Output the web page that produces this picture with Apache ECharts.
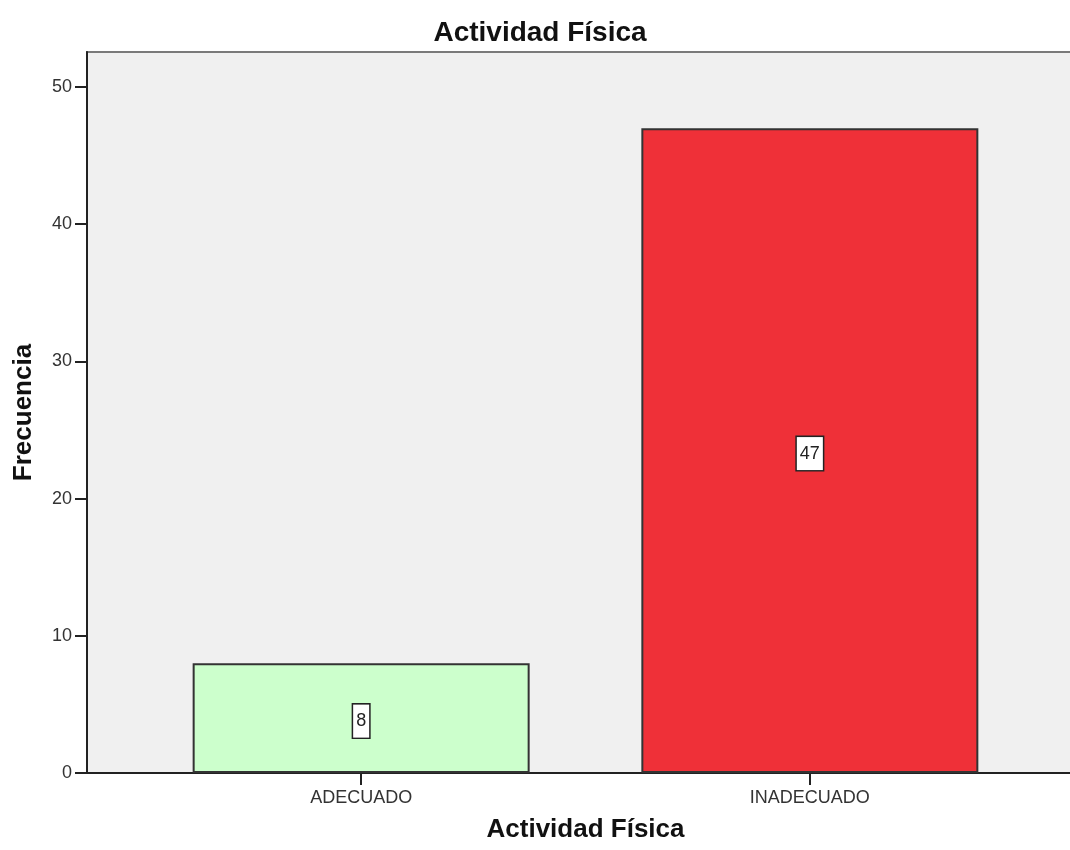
<!DOCTYPE html>
<html>
<head>
<meta charset="utf-8">
<title>Actividad Física</title>
<script src="https://cdn.jsdelivr.net/npm/echarts@6/dist/echarts.min.js"></script>
<style>
  html, body { margin: 0; padding: 0; background: #fff; }
  #chart { width: 1070px; height: 850px; }
</style>
</head>
<body>
<div id="chart"></div>
<script>
// Frequency of physical activity level
const categories = ['ADECUADO', 'INADECUADO'];
const frequencies = [8, 47];
const barColors = ['#ccffcc', '#ef3038'];
const yTicks = [0, 10, 20, 30, 40, 50];

const FONT = '"Liberation Sans", Arial, sans-serif';

// bars sit at category positions 0 and 1 on a numeric axis
const barData = categories.map((name, i) => ({
  name: name,
  value: [i, frequencies[i]],
  itemStyle: { color: barColors[i] }
}));

const chart = echarts.init(document.getElementById('chart'), null, { renderer: 'canvas' });

chart.setOption({
  animation: false,
  backgroundColor: '#ffffff',
  textStyle: { fontFamily: FONT },
  title: {
    text: 'Actividad Física',
    left: 535,
    top: 14,
    textAlign: 'center',
    textStyle: { fontFamily: FONT, fontSize: 28, fontWeight: 'bold', color: '#111' }
  },
  grid: {
    left: 87,
    top: 52,
    right: -14,
    bottom: 77,
    outerBoundsMode: 'none',
    containLabel: false,
    show: true,
    backgroundColor: '#f0f0f0',
    borderColor: '#7a7a7a',
    borderWidth: 2
  },
  xAxis: {
    type: 'value',
    min: -0.611,
    max: 1.611,
    name: 'Actividad Física',
    nameLocation: 'middle',
    nameGap: 44,
    nameTextStyle: { fontFamily: FONT, fontSize: 26, fontWeight: 'bold', color: '#111' },
    splitLine: { show: false },
    axisLine: { show: true, onZero: false, lineStyle: { color: '#222', width: 2 } },
    axisTick: {
      show: true,
      customValues: [0, 1],
      length: 12,
      lineStyle: { color: '#222', width: 2 }
    },
    axisLabel: {
      customValues: [0, 1],
      margin: 16,
      fontFamily: FONT,
      fontSize: 18,
      color: '#333',
      formatter: v => categories[Math.round(v)] || ''
    }
  },
  yAxis: {
    type: 'value',
    min: 0,
    max: 52.55,
    interval: 10,
    name: 'Frecuencia',
    nameLocation: 'middle',
    nameGap: 50,
    nameTextStyle: { fontFamily: FONT, fontSize: 26, fontWeight: 'bold', color: '#111' },
    splitLine: { show: false },
    axisLine: { show: true, onZero: false, lineStyle: { color: '#222', width: 2 } },
    axisTick: {
      show: true,
      customValues: yTicks,
      length: 12,
      lineStyle: { color: '#222', width: 2 }
    },
    axisLabel: {
      customValues: yTicks,
      margin: 15,
      fontFamily: FONT,
      fontSize: 18,
      color: '#333'
    }
  },
  series: [{
    type: 'bar',
    barWidth: 337,
    data: barData,
    itemStyle: { borderColor: '#333', borderWidth: 2 },
    label: {
      show: true,
      position: 'inside',
      formatter: p => String(p.value[1]),
      fontFamily: FONT,
      fontSize: 18,
      color: '#222',
      backgroundColor: '#ffffff',
      borderColor: '#222',
      borderWidth: 1.5,
      padding: [8, 3, 7, 3],
      offset: [0, 3]
    }
  }]
});
</script>
</body>
</html>
